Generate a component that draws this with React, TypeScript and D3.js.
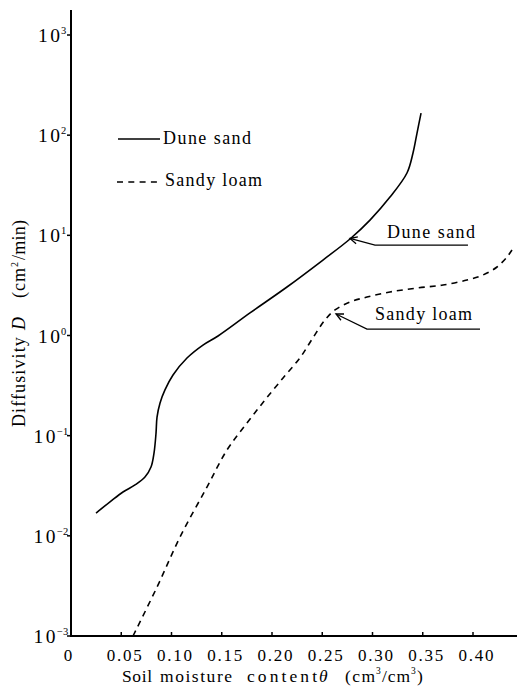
import React from "react";
import * as d3 from "d3";

// ---- data (θ in cm³/cm³, D in cm²/min) ----
const duneTheta = [0.0249, 0.0388, 0.0517, 0.0637, 0.0736, 0.0796, 0.0826, 0.0846, 0.0856, 0.0886, 0.0935, 0.1015, 0.1154, 0.1313, 0.1463, 0.1781, 0.2149, 0.2507, 0.2776, 0.2975, 0.3174, 0.3343, 0.3403, 0.3443, 0.3483];
const duneD = [0.0169, 0.0218, 0.0274, 0.0322, 0.0386, 0.0486, 0.0671, 0.106, 0.153, 0.212, 0.286, 0.403, 0.596, 0.803, 0.989, 1.68, 3.05, 5.67, 9.19, 14.2, 24.1, 41.9, 66.4, 105, 166];

const loamTheta = [0.0617, 0.0856, 0.1085, 0.1353, 0.1552, 0.1751, 0.193, 0.211, 0.2279, 0.2408, 0.2527, 0.2627, 0.2776, 0.2945, 0.3174, 0.3443, 0.3701, 0.394, 0.41, 0.4239, 0.4338, 0.4388];
const loamD = [0.001, 0.00308, 0.00973, 0.0307, 0.0719, 0.134, 0.227, 0.377, 0.6, 0.95, 1.43, 1.8, 2.16, 2.42, 2.72, 2.98, 3.19, 3.58, 4.02, 4.83, 6.08, 7.13];

const xTicks = [0, 0.05, 0.1, 0.15, 0.2, 0.25, 0.3, 0.35, 0.4];
const xTickLabels = ["0", "0.05", "0.10", "0.15", "0.20", "0.25", "0.30", "0.35", "0.40"];
const yExponents = [-3, -2, -1, 0, 1, 2, 3];

// annotation anchors in data coords: [tipθ, tipD, elbowθ, elbowD, endθ, textθ, textD]
const duneNote = [0.2776, 9.3, 0.3025, 8.0, 0.395, 0.3144, 9.4];
const loamNote = [0.2637, 1.64, 0.2945, 1.16, 0.407, 0.3025, 1.43];

const FAM = "Liberation Serif";

// approximate Times advance widths (em)
const CW: Record<string, number> = {
  a: 0.444, b: 0.5, c: 0.444, d: 0.5, e: 0.444, f: 0.333, g: 0.5, h: 0.5, i: 0.278, j: 0.278, k: 0.5, l: 0.278, m: 0.778,
  n: 0.5, o: 0.5, p: 0.5, q: 0.5, r: 0.333, s: 0.389, t: 0.278, u: 0.5, v: 0.5, w: 0.722, x: 0.5, y: 0.5, z: 0.444,
  D: 0.722, S: 0.556, ".": 0.25, "(": 0.333, ")": 0.333, "/": 0.278, " ": 0.25, "θ": 0.5,
};
const cw = (c: string) => (CW[c] !== undefined ? CW[c] : 0.5);

function Spaced(props: any) {
  const { str, width, size, ...rest } = props;
  const chars = Array.from(str as string);
  const natural = chars.reduce((s, c) => s + cw(c) * size, 0);
  const sp = chars.length > 1 ? Math.max(0, (width - natural) / (chars.length - 1)) : 0;
  return (
    <text fontFamily={FAM} style={{ fontFamily: `"${FAM}"` }} fontSize={size} fill="#000" {...rest}>
      {chars.map((c, i) => (
        <tspan key={i} dx={i === 0 ? 0 : sp}>
          {c}
        </tspan>
      ))}
    </text>
  );
}

function T(props: any) {
  const { children, ...rest } = props;
  return (
    <text fontFamily={FAM} style={{ fontFamily: `"${FAM}"` }} fill="#000" {...rest}>
      {children}
    </text>
  );
}

export default function App() {
  const W = 517, H = 686;
  const x = d3.scaleLinear().domain([0, 0.4]).range([71, 473]);
  const y = d3.scaleLog().domain([1e-3, 1e3]).range([636, 35]);

  const line = d3
    .line<[number, number]>()
    .x((d) => x(d[0]))
    .y((d) => y(d[1]))
    .curve(d3.curveCatmullRom.alpha(0.5));

  const duneData = duneTheta.map((t, i) => [t, duneD[i]] as [number, number]);
  const loamData = loamTheta.map((t, i) => [t, loamD[i]] as [number, number]);

  const arrow = (n: number[], key: string) => {
    const tx = x(n[0]), ty = y(n[1]);
    const ex = x(n[2]), ey = y(n[3]);
    const fx = x(n[4]);
    const ang = Math.atan2(ey - ty, ex - tx);
    const L = 8, a = 0.45;
    const b1 = [tx + L * Math.cos(ang - a), ty + L * Math.sin(ang - a)];
    const b2 = [tx + L * Math.cos(ang + a), ty + L * Math.sin(ang + a)];
    return (
      <g key={key} fill="none" stroke="#000" strokeWidth={1.3}>
        <path d={`M${tx},${ty}L${ex},${ey}L${fx},${ey}`} />
        <path d={`M${b1[0]},${b1[1]}L${tx},${ty}L${b2[0]},${b2[1]}`} />
      </g>
    );
  };

  return (
    <svg width={W} height={H} style={{ position: "absolute", left: 0, top: 0 }}>
      <rect width={W} height={H} fill="#fff" />
      {/* axes */}
      <line x1={x(0)} x2={x(0)} y1={10} y2={637} stroke="#000" strokeWidth={2} />
      <line x1={x(0) - 1} x2={517} y1={y(1e-3)} y2={y(1e-3)} stroke="#000" strokeWidth={2} />
      {/* x ticks */}
      {xTicks.map((t, i) => (
        <g key={"xt" + i}>
          {i > 0 && <line x1={x(t)} x2={x(t)} y1={y(1e-3)} y2={y(1e-3) - 4} stroke="#000" strokeWidth={1.5} />}
          <Spaced
            str={xTickLabels[i]}
            width={i === 0 ? 9 : 35}
            size={17}
            x={x(t) + (i === 0 ? -3 : 3)}
            y={661}
            textAnchor="middle"
          />
        </g>
      ))}
      {/* y ticks */}
      {yExponents.map((e) => {
        const yy = y(Math.pow(10, e));
        return (
          <g key={"yt" + e}>
            <line x1={x(0)} x2={x(0) - 4} y1={yy} y2={yy} stroke="#000" strokeWidth={1.5} />
            <Spaced str="10" width={22} size={19.5} x={e < 0 ? 55.5 : 60} y={yy + 7} textAnchor="end" />
            <T x={e < 0 ? 57 : 61} y={yy - 1} textAnchor="start" fontSize={10.5}>
              {e < 0 ? "\u2212" + Math.abs(e) : String(e)}
            </T>
          </g>
        );
      })}
      {/* x axis title */}
      <Spaced str="Soil" width={30} size={17.5} x={122} y={682} />
      <Spaced str="moisture" width={72} size={17.5} x={160} y={682} />
      <Spaced str="content" width={70} size={17.5} x={247} y={682} />
      <T x={319} y={682} fontSize={17.5} fontStyle="italic">θ</T>
      <Spaced str="(cm" width={30} size={17.5} x={345} y={682} />
      <T x={376} y={674} fontSize={9.5}>3</T>
      <Spaced str="/cm" width={28} size={17.5} x={382} y={682} />
      <T x={411} y={674} fontSize={9.5}>3</T>
      <T x={417} y={682} fontSize={17.5}>)</T>
      {/* y axis title (rotated) */}
      <g transform="translate(25,0) rotate(-90)">
        <Spaced str="Diffusivity" width={90} size={18} x={-427} y={0} />
        <T x={-330} y={0} fontSize={18} fontStyle="italic">D</T>
        <Spaced str="(cm" width={30} size={18} x={-298} y={0} />
        <T x={-267} y={-7} fontSize={10}>2</T>
        <Spaced str="/min)" width={40} size={18} x={-260} y={0} />
      </g>
      {/* curves */}
      <path d={line(duneData) || ""} fill="none" stroke="#000" strokeWidth={1.6} />
      <path d={line(loamData) || ""} fill="none" stroke="#000" strokeWidth={1.6} strokeDasharray="6,5" />
      {/* annotations */}
      {arrow(duneNote, "dn")}
      {arrow(loamNote, "ln")}
      <Spaced str="Dune sand" width={88} size={18} x={x(duneNote[5])} y={y(duneNote[6])} />
      <Spaced str="Sandy loam" width={97} size={18} x={x(loamNote[5])} y={y(loamNote[6])} />
      {/* legend */}
      <line x1={118} x2={160} y1={139} y2={139} stroke="#000" strokeWidth={1.6} />
      <Spaced str="Dune sand" width={88} size={18} x={163} y={144} />
      <line x1={117} x2={160} y1={182} y2={182} stroke="#000" strokeWidth={1.6} strokeDasharray="6,5.3" />
      <Spaced str="Sandy loam" width={97} size={18} x={165} y={186} />
    </svg>
  );
}
